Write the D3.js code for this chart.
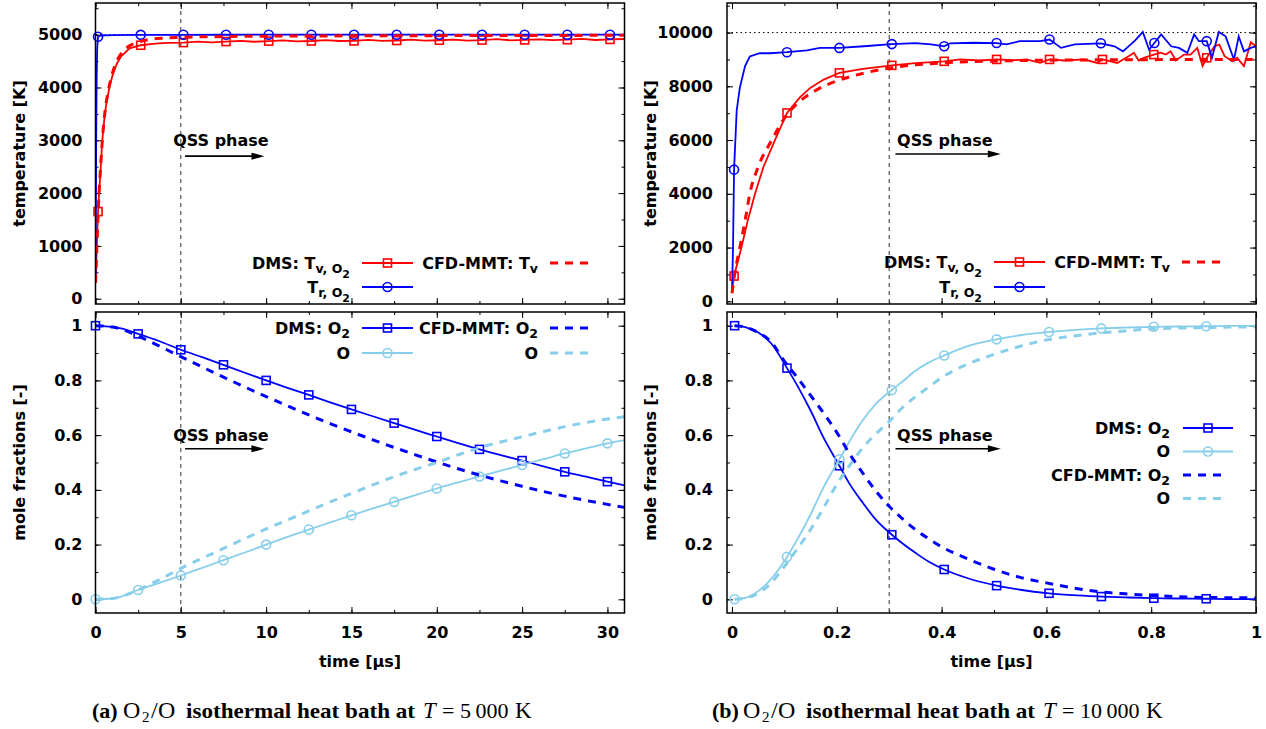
<!DOCTYPE html>
<html><head><meta charset="utf-8">
<script src="https://cdn.jsdelivr.net/npm/d3@7"></script>
<style>
body{margin:0;background:#fff;}
svg text{font-family:"DejaVu Sans",sans-serif;font-weight:bold;fill:#000;}
</style></head><body>
<script>
// ---------------- DATA ----------------
const xTicksA = [0,5,10,15,20,25,30];
const xTickLabelsA = ["0","5","10","15","20","25","30"];
const xTicksB = [0,0.2,0.4,0.6,0.8,1];
const xTickLabelsB = ["0","0.2","0.4","0.6","0.8","1"];
const yTicksTempA = [0,1000,2000,3000,4000,5000];
const yTickLabelsTempA = ["0","1000","2000","3000","4000","5000"];
const yTicksTempB = [0,2000,4000,6000,8000,10000];
const yTickLabelsTempB = ["0","2000","4000","6000","8000","10000"];
const yTicksMole = [0,0.2,0.4,0.6,0.8,1];
const yTickLabelsMole = ["0","0.2","0.4","0.6","0.8","1"];

// (a) T = 5000 K : temperatures [time us, T K, marker flag]
const a_TvDMS = [[0,300],[0.05,750],[0.1,1200],[0.15,1650,1],[0.2,1950],[0.3,2450],[0.4,3000],[0.5,3350],[0.6,3620],[0.8,3980],[1.0,4230],[1.25,4450],[1.5,4590],[2.0,4740],[2.65,4800,1],[3.5,4830],[4.2,4845],[5.15,4850,1],[6,4868],[6.8,4855],[7.65,4870,1],[8.5,4884],[9.3,4866],[10.15,4878,1],[11,4892],[11.8,4874],[12.65,4880,1],[13.5,4897],[14.3,4880],[15.15,4882,1],[16,4902],[16.8,4884],[17.65,4890,1],[18.5,4906],[19.3,4886],[20.15,4895,1],[21,4908],[21.8,4889],[22.65,4898,1],[23.5,4914],[24.3,4894],[25.15,4900,1],[26,4913],[26.8,4896],[27.65,4905,1],[28.5,4920],[29.3,4899],[30.15,4910,1],[31,4918]];
const a_TrDMS = [[0,300],[0.02,1500],[0.04,3000],[0.07,4200],[0.1,4750],[0.15,4960,1],[0.3,4985],[1,4993],[2.65,4997,1],[5.15,4998,1],[7.65,4999,1],[10.15,5000,1],[12.65,5000,1],[15.15,5000,1],[17.65,5000,1],[20.15,5000,1],[22.65,5000,1],[25.15,5000,1],[27.65,5000,1],[30.15,5000,1],[31,5000]];
const a_TvCFD = [[0,300],[0.05,700],[0.1,1150],[0.2,1950],[0.3,2500],[0.4,3000],[0.5,3380],[0.6,3650],[0.8,4020],[1.0,4280],[1.25,4500],[1.5,4640],[2.0,4790],[2.5,4860],[3,4900],[4,4935],[5,4950],[7.5,4965],[10,4972],[15,4978],[20,4982],[25,4985],[31,4988]];
// (a) mole fractions
const a_O2DMS = [[0,1,1],[1,0.995],[1.5,0.99],[2.5,0.970,1],[3.75,0.943],[5,0.912,1],[6.25,0.885],[7.5,0.857,1],[8.75,0.828],[10,0.800,1],[11.25,0.773],[12.5,0.747,1],[13.75,0.72],[15,0.694,1],[16.25,0.669],[17.5,0.644,1],[18.75,0.619],[20,0.595,1],[21.25,0.571],[22.5,0.548,1],[23.75,0.527],[25,0.507,1],[26.25,0.486],[27.5,0.466,1],[28.75,0.448],[30,0.430,1],[31,0.416]];
const a_ODMS = [[0,0,1],[1,0.003],[1.5,0.01],[2.5,0.034,1],[3.75,0.06],[5,0.087,1],[6.25,0.115],[7.5,0.143,1],[8.75,0.171],[10,0.200,1],[11.25,0.228],[12.5,0.255,1],[13.75,0.281],[15,0.307,1],[16.25,0.332],[17.5,0.356,1],[18.75,0.381],[20,0.405,1],[21.25,0.427],[22.5,0.449,1],[23.75,0.470],[25,0.491,1],[26.25,0.512],[27.5,0.533,1],[28.75,0.552],[30,0.570,1],[31,0.582]];
const a_O2CFD = [[0,1],[1,0.995],[1.5,0.988],[2.5,0.962],[3.75,0.925],[5,0.887],[6.25,0.849],[7.5,0.812],[8.75,0.776],[10,0.741],[11.25,0.707],[12.5,0.674],[13.75,0.642],[15,0.612],[16.25,0.583],[17.5,0.555],[18.75,0.528],[20,0.502],[21.25,0.477],[22.5,0.454],[23.75,0.433],[25,0.413],[26.25,0.394],[27.5,0.377],[28.75,0.361],[30,0.347],[31,0.336]];
const a_OCFD = [[0,0],[1,0.003],[1.5,0.01],[2.5,0.034],[3.75,0.072],[5,0.113],[6.25,0.15],[7.5,0.186],[8.75,0.222],[10,0.257],[11.25,0.29],[12.5,0.323],[13.75,0.356],[15,0.387],[16.25,0.418],[17.5,0.448],[18.75,0.475],[20,0.50],[21.25,0.528],[22.5,0.554],[23.75,0.575],[25,0.594],[26.25,0.613],[27.5,0.631],[28.75,0.646],[30,0.659],[31,0.667]];

// (b) T = 10000 K : temperatures
const b_TvDMS = [[0.0,400],[0.004,940,1],[0.018,2000],[0.03,3000],[0.044,4000],[0.06,5000],[0.082,6000],[0.105,7010,1],[0.13,7600],[0.15,7950],[0.175,8250],[0.205,8500,1],[0.25,8650],[0.305,8780,1],[0.35,8860],[0.405,8930,1],[0.435,9000],[0.473,8960],[0.505,9000,1],[0.537,8970],[0.562,9000],[0.588,8870],[0.606,9000,1],[0.634,8960],[0.672,9000],[0.697,8870],[0.707,9000,1],[0.735,8870],[0.757,9120],[0.767,9250],[0.776,8960],[0.786,9060],[0.805,9180,1],[0.818,9250],[0.828,9180],[0.837,9300],[0.847,8960],[0.863,9180],[0.875,9180],[0.888,9430],[0.898,8750],[0.906,9060,1],[0.921,9490],[0.93,9550],[0.94,9120],[0.955,8930],[0.964,9060],[0.977,8750],[0.99,9640],[1.0,9490]];
const b_TrDMS = [[0.0,350],[0.002,2000],[0.004,4900,1],[0.009,7100],[0.015,7950],[0.025,8750],[0.034,9110],[0.053,9230],[0.072,9230],[0.105,9270,1],[0.143,9340],[0.168,9430],[0.205,9430,1],[0.252,9490],[0.305,9570,1],[0.35,9610],[0.38,9560],[0.405,9490,1],[0.416,9600],[0.461,9620],[0.505,9610,1],[0.524,9560],[0.549,9680],[0.588,9680],[0.606,9740,1],[0.628,9430],[0.654,9560],[0.704,9600,1],[0.73,9490],[0.746,9300],[0.768,9680],[0.784,10020],[0.796,9360],[0.806,9610,1],[0.819,9930],[0.838,9490],[0.853,9430],[0.869,9245],[0.882,9930],[0.891,9680],[0.906,9680,1],[0.916,9060],[0.929,10020],[0.942,9860],[0.958,8990],[0.967,9860],[0.977,9300],[0.99,9430],[1.0,9490]];
const b_TvCFD = [[0.0,300],[0.005,1000],[0.015,2000],[0.025,3000],[0.034,4000],[0.05,5000],[0.076,6000],[0.105,6950],[0.13,7450],[0.16,7850],[0.2,8200],[0.25,8480],[0.3,8680],[0.35,8800],[0.4,8870],[0.5,8940],[0.6,8970],[0.7,8985],[0.8,8992],[1.0,9000]];
// (b) mole fractions
const b_O2DMS = [[0.005,1.0,1],[0.025,0.995],[0.05,0.975],[0.075,0.935],[0.105,0.845,1],[0.125,0.78],[0.15,0.69],[0.175,0.59],[0.205,0.488,1],[0.225,0.42],[0.25,0.352],[0.275,0.29],[0.305,0.236,1],[0.325,0.205],[0.35,0.17],[0.375,0.138],[0.405,0.109,1],[0.45,0.077],[0.505,0.05,1],[0.55,0.035],[0.605,0.022,1],[0.65,0.015],[0.705,0.01,1],[0.75,0.007],[0.805,0.004,1],[0.85,0.003],[0.905,0.002,1],[0.95,0.001],[1.0,0.001]];
const b_ODMS = [[0.005,0,1],[0.025,0.005],[0.05,0.03],[0.075,0.075],[0.105,0.155,1],[0.125,0.22],[0.15,0.31],[0.175,0.41],[0.205,0.512,1],[0.225,0.58],[0.25,0.655],[0.275,0.715],[0.305,0.765,1],[0.325,0.795],[0.35,0.835],[0.375,0.865],[0.405,0.891,1],[0.45,0.925],[0.505,0.95,1],[0.55,0.965],[0.605,0.977,1],[0.65,0.984],[0.705,0.99,1],[0.75,0.993],[0.805,0.996,1],[0.85,0.997],[0.905,0.998,1],[0.95,0.999],[1.0,0.999]];
const b_O2CFD = [[0.005,1.0],[0.025,0.995],[0.05,0.975],[0.075,0.94],[0.1,0.87],[0.125,0.81],[0.15,0.745],[0.175,0.68],[0.2,0.61],[0.225,0.53],[0.25,0.46],[0.275,0.395],[0.3,0.34],[0.325,0.295],[0.35,0.255],[0.375,0.222],[0.4,0.192],[0.45,0.148],[0.5,0.11],[0.55,0.08],[0.6,0.06],[0.65,0.042],[0.7,0.028],[0.75,0.02],[0.8,0.014],[0.85,0.01],[0.9,0.007],[0.95,0.006],[1.0,0.005]];
const b_OCFD = [[0.005,0],[0.025,0.004],[0.05,0.022],[0.075,0.06],[0.1,0.12],[0.125,0.185],[0.15,0.255],[0.175,0.335],[0.2,0.42],[0.225,0.49],[0.25,0.555],[0.275,0.605],[0.3,0.65],[0.325,0.7],[0.35,0.74],[0.375,0.775],[0.4,0.81],[0.45,0.86],[0.5,0.895],[0.55,0.925],[0.6,0.948],[0.65,0.962],[0.7,0.973],[0.75,0.981],[0.8,0.988],[0.9,0.993],[1.0,0.996]];

const qssTimeA = 5, qssTimeB = 0.3;
const bathTempA = 5000, bathTempB = 10000;

// ---------------- STYLE ----------------
const RED = "#ff0000", BLUE = "#0000ff", SKY = "#87ceeb";
const FS = 16;

const svg = d3.select("body").append("svg").attr("width",1266).attr("height",729);

function line(g, x, y, data, color, dashed, curve, clip){
  const gen = d3.line().x(d=>x(d[0])).y(d=>y(d[1])).curve(curve||d3.curveLinear);
  g.append("path").attr("d",gen(data)).attr("fill","none").attr("stroke",color)
    .attr("stroke-width",dashed?3:1.8).attr("stroke-dasharray",dashed?"8,7":null)
    .attr("clip-path","url(#"+clip+")");
}
function marker(g, cx, cy, type, color){
  if(type==="sq") g.append("rect").attr("x",cx-4).attr("y",cy-4).attr("width",8).attr("height",8)
      .attr("fill","none").attr("stroke",color).attr("stroke-width",1.6);
  else g.append("circle").attr("cx",cx).attr("cy",cy).attr("r",4.5)
      .attr("fill","none").attr("stroke",color).attr("stroke-width",1.6);
}
function markers(g, x, y, data, type, color){
  data.filter(d=>d[2]).forEach(d=>marker(g, x(d[0]), y(d[1]), type, color));
}

function plot(cfg){
  const x = d3.scaleLinear().domain(cfg.xd).range(cfg.xr);
  const y = d3.scaleLinear().domain(cfg.yd).range(cfg.yr);
  const g = svg.append("g");
  const [x0,x1] = cfg.xr, [y1,y0] = cfg.yr;
  const clip = "clip_"+cfg.id;
  svg.append("clipPath").attr("id",clip).append("rect").attr("x",x0).attr("y",y0).attr("width",x1-x0).attr("height",y1-y0);

  const axis = (fn, scale, vals, size, tr, labels, pad) => {
    const a = fn(scale).tickValues(vals).tickSizeInner(-size).tickSizeOuter(0).tickPadding(pad||0);
    a.tickFormat(labels ? ((d,i)=>labels[i]) : "");
    const ag = g.append("g").attr("transform",tr).call(a);
    ag.select(".domain").remove();
    ag.selectAll("line").attr("stroke","#000").attr("stroke-width",1);
    ag.attr("font-family",null).attr("font-size",null);
    ag.selectAll("text").attr("font-size",FS).attr("fill","#000");
  };
  axis(d3.axisLeft, y, cfg.yTicks, 6, `translate(${x0},0)`, cfg.yLabels, cfg.yPad);
  axis(d3.axisLeft, y, cfg.yMinor, 3, `translate(${x0},0)`, null);
  axis(d3.axisRight, y, cfg.yTicks, 6, `translate(${x1},0)`, null);
  axis(d3.axisRight, y, cfg.yMinor, 3, `translate(${x1},0)`, null);
  axis(d3.axisBottom, x, cfg.xTicks, 6, `translate(0,${y1})`, cfg.xLabels, 14);
  axis(d3.axisBottom, x, cfg.xMinor, 3, `translate(0,${y1})`, null);
  axis(d3.axisTop, x, cfg.xTicks, 6, `translate(0,${y0})`, null);
  axis(d3.axisTop, x, cfg.xMinor, 3, `translate(0,${y0})`, null);

  if(cfg.hRef!=null) g.append("line").attr("x1",x0).attr("x2",x1).attr("y1",y(cfg.hRef)).attr("y2",y(cfg.hRef))
      .attr("stroke","#000").attr("stroke-width",1).attr("stroke-dasharray","1.5,3");
  g.append("line").attr("x1",x(cfg.vRef)).attr("x2",x(cfg.vRef)).attr("y1",y0).attr("y2",y1)
      .attr("stroke","#333").attr("stroke-width",1).attr("stroke-dasharray","4,4");

  g.append("text").attr("x",x(cfg.qss.tx)).attr("y",y(cfg.qss.ty)).attr("dy","0.36em").attr("font-size",FS).text("QSS phase");
  const ay = y(cfg.qss.ay), ax1 = x(cfg.qss.ax1), ax2 = x(cfg.qss.ax2);
  g.append("line").attr("x1",ax1).attr("x2",ax2-10).attr("y1",ay).attr("y2",ay).attr("stroke","#000").attr("stroke-width",1.6);
  g.append("path").attr("d",`M${ax2},${ay}L${ax2-13},${ay-3.5}L${ax2-13},${ay+3.5}Z`).attr("fill","#000");

  cfg.series.forEach(s=>{
    line(g, x, y, s.data, s.color, s.dashed, s.curve, clip);
    if(s.mk) markers(g, x, y, s.data, s.mk, s.color);
  });

  g.append("rect").attr("x",x0).attr("y",y0).attr("width",x1-x0).attr("height",y1-y0)
    .attr("fill","none").attr("stroke","#000").attr("stroke-width",1.5);

  g.append("text").attr("transform",`translate(${cfg.yTitleX},${(y0+y1)/2}) rotate(-90)`)
    .attr("text-anchor","middle").attr("font-size",FS).text(cfg.yTitle);
  if(cfg.xTitle) g.append("text").attr("x",(x0+x1)/2).attr("y",667).attr("text-anchor","middle")
    .attr("font-size",FS).text(cfg.xTitle);
  return g;
}

function rich(g, x, y, parts, anchor){
  const t = g.append("text").attr("x",x).attr("y",y).attr("text-anchor",anchor||"end").attr("font-size",FS);
  let level = 0;
  parts.forEach(p=>{
    const lv = p[1]||0;
    const shift = (lv-level)*4.5;
    t.append("tspan").attr("dy",shift).attr("font-size",lv===0?FS:(lv===1?12.5:11)).text(p[0]);
    level = lv;
  });
  return t;
}
function legendEntry(g, xTextEnd, yy, parts, color, dashed, mk, x1, x2){
  rich(g, xTextEnd, yy+5.8, parts, "end");
  g.append("line").attr("x1",x1).attr("x2",x2).attr("y1",yy).attr("y2",yy).attr("stroke",color)
    .attr("stroke-width",dashed?3:1.8).attr("stroke-dasharray",dashed?"8,7":null);
  if(mk) marker(g,(x1+x2)/2,yy,mk,color);
}

const minorA = d3.range(0,31.01,2.5);
const minorB = d3.range(0,1.001,0.1);

// ---------- (a) top ----------
const gaT = plot({id:"aT", xd:[0,31], xr:[95.5,624.5], yd:[-100,5600], yr:[304,3],
  xTicks:xTicksA, xLabels:null, xMinor:minorA, yTicks:yTicksTempA, yLabels:yTickLabelsTempA,
  yMinor:d3.range(0,5600,500), yPad:13, hRef:bathTempA, vRef:qssTimeA,
  qss:{tx:4.55, ty:3000, ax1:5.25, ax2:9.9, ay:2700},
  yTitle:"temperature [K]", yTitleX:25,
  series:[{data:a_TvDMS,color:RED,mk:"sq"},{data:a_TrDMS,color:BLUE,mk:"ci"},{data:a_TvCFD,color:RED,dashed:true,curve:d3.curveMonotoneX}]});
legendEntry(gaT,350,263,[["DMS: T"],["v, O",1],["2",2]],RED,false,"sq",362,413);
legendEntry(gaT,350,287,[["T"],["r, O",1],["2",2]],BLUE,false,"ci",362,413);
legendEntry(gaT,538,263,[["CFD-MMT: T"],["v",1]],RED,true,null,550,595);

// ---------- (a) bottom ----------
const gaB = plot({id:"aB", xd:[0,31], xr:[95.5,624.5], yd:[-0.05,1.05], yr:[613,312],
  xTicks:xTicksA, xLabels:xTickLabelsA, xMinor:minorA, yTicks:yTicksMole, yLabels:yTickLabelsMole,
  yMinor:d3.range(0,1.01,0.1), yPad:13, hRef:null, vRef:qssTimeA,
  qss:{tx:4.55, ty:0.6, ax1:5.25, ax2:9.9, ay:0.55},
  yTitle:"mole fractions [-]", yTitleX:25, xTitle:"time [\u03bcs]",
  series:[{data:a_O2DMS,color:BLUE,mk:"sq",curve:d3.curveMonotoneX},{data:a_ODMS,color:SKY,mk:"ci",curve:d3.curveMonotoneX},
          {data:a_O2CFD,color:BLUE,dashed:true,curve:d3.curveMonotoneX},{data:a_OCFD,color:SKY,dashed:true,curve:d3.curveMonotoneX}]});
legendEntry(gaB,350,328,[["DMS: O"],["2",1]],BLUE,false,"sq",362,413);
legendEntry(gaB,350,353,[["O"]],SKY,false,"ci",362,413);
legendEntry(gaB,538,328,[["CFD-MMT: O"],["2",1]],BLUE,true,null,550,595);
legendEntry(gaB,538,353,[["O"]],SKY,true,null,550,595);

// ---------- (b) top ----------
const gbT = plot({id:"bT", xd:[-0.0095,1], xr:[727,1256], yd:[-100,11100], yr:[304,3],
  xTicks:xTicksB, xLabels:null, xMinor:minorB, yTicks:yTicksTempB, yLabels:yTickLabelsTempB,
  yMinor:d3.range(0,11001,1000), yPad:14, hRef:bathTempB, vRef:qssTimeB,
  qss:{tx:0.315, ty:6000, ax1:0.312, ax2:0.513, ay:5480},
  yTitle:"temperature [K]", yTitleX:656,
  series:[{data:b_TvDMS,color:RED,mk:"sq"},{data:b_TrDMS,color:BLUE,mk:"ci"},{data:b_TvCFD,color:RED,dashed:true,curve:d3.curveMonotoneX}]});
legendEntry(gbT,982,262,[["DMS: T"],["v, O",1],["2",2]],RED,false,"sq",994,1045);
legendEntry(gbT,982,287,[["T"],["r, O",1],["2",2]],BLUE,false,"ci",994,1045);
legendEntry(gbT,1170,262,[["CFD-MMT: T"],["v",1]],RED,true,null,1182,1227);

// ---------- (b) bottom ----------
const gbB = plot({id:"bB", xd:[-0.0095,1], xr:[727,1256], yd:[-0.05,1.05], yr:[613,312],
  xTicks:xTicksB, xLabels:xTickLabelsB, xMinor:minorB, yTicks:yTicksMole, yLabels:yTickLabelsMole,
  yMinor:d3.range(0,1.01,0.1), yPad:14, hRef:null, vRef:qssTimeB,
  qss:{tx:0.315, ty:0.6, ax1:0.312, ax2:0.513, ay:0.55},
  yTitle:"mole fractions [-]", yTitleX:656, xTitle:"time [\u03bcs]",
  series:[{data:b_O2DMS,color:BLUE,mk:"sq",curve:d3.curveMonotoneX},{data:b_ODMS,color:SKY,mk:"ci",curve:d3.curveMonotoneX},
          {data:b_O2CFD,color:BLUE,dashed:true,curve:d3.curveMonotoneX},{data:b_OCFD,color:SKY,dashed:true,curve:d3.curveMonotoneX}]});
legendEntry(gbB,1170,428,[["DMS: O"],["2",1]],BLUE,false,"sq",1183,1233);
legendEntry(gbB,1170,451.5,[["O"]],SKY,false,"ci",1183,1233);
legendEntry(gbB,1170,475,[["CFD-MMT: O"],["2",1]],BLUE,true,null,1183,1228);
legendEntry(gbB,1170,498.5,[["O"]],SKY,true,null,1183,1228);

// ---------- captions ----------
function caption(x0, label, temp, kOff){
  const t = svg.append("text").attr("y",718)
    .style("font-family","'Liberation Serif','Times New Roman',serif").attr("font-size",22);
  const seg = (dx, txt, w, st, extra) => {
    const s = t.append("tspan").attr("x",x0+dx).attr("y",718+(extra||0)).style("font-weight",w).text(txt);
    if(st) s.style("font-style",st);
    return s;
  };
  seg(0,label,"bold");
  seg(31,"O","normal").attr("font-size",24);
  seg(50,"2","normal",null,4).attr("font-size",15);
  seg(59,"/","normal").attr("font-size",24);
  seg(66,"O","normal").attr("font-size",24);
  seg(94,"isothermal heat bath at","bold").attr("textLength",229).attr("lengthAdjust","spacingAndGlyphs");
  seg(331,"T","normal","italic").attr("font-size",23);
  seg(350,"=","normal").attr("font-size",22);
  seg(368,temp,"normal").attr("font-size",22);
  seg(kOff,"K","normal").attr("font-size",23);
}
caption(92,"(a)","5\u2009000",423);
caption(712,"(b)","10\u2009000",434);
</script></body></html>
